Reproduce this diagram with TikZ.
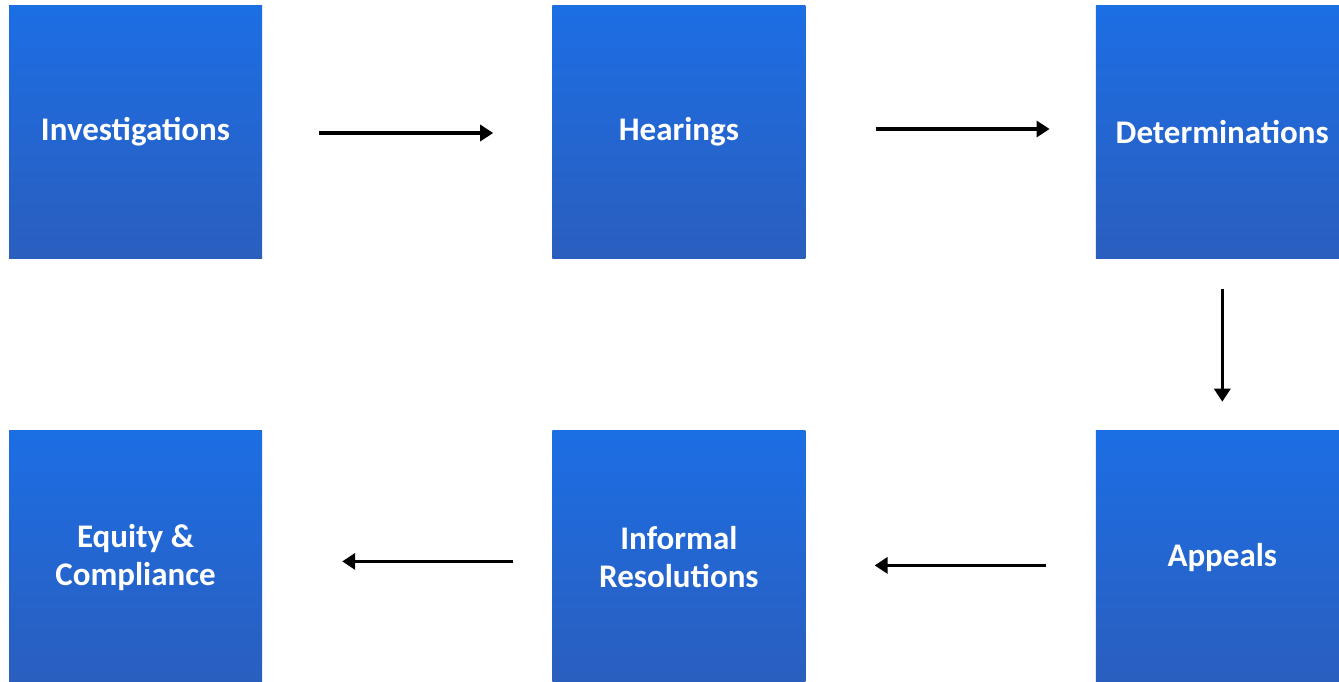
\documentclass[tikz,border=0pt]{standalone}
\usepackage{fontspec}
\setmainfont{Carlito}
\usepackage{tikz}
\usetikzlibrary{positioning,arrows.meta}

\definecolor{boxtop}{RGB}{28,110,228}
\definecolor{boxmid}{RGB}{38,116,224}
\definecolor{boxbot}{RGB}{42,94,190}

\tikzset{
  stage/.style = {minimum width = 253pt, minimum height = 253pt, inner sep = 0pt,
    top color = boxtop, middle color = boxmid, bottom color = boxbot,
    text = white, align = center,
    font = \fontsize{33}{38}\selectfont\bfseries},
  flow/.style = {line width = 3.6pt, -{Triangle[length=13pt,width=16pt]}}
}

\begin{document}
\begin{tikzpicture}[node distance = 290pt]
\useasboundingbox (0pt,0pt) rectangle (1339pt,-681pt);
\clip (0pt,0pt) rectangle (1339pt,-681pt);
\node [stage] (inv) at (135.5pt,-132pt) {Investigations};
\node [stage, right = of inv] (hear) {Hearings};
\node [stage, right = of hear] (det) {Determinations};
\node [stage, below = 172pt of det] (app) {Appeals};
\node [stage, left = of app] (inf) {Informal\\Resolutions};
\node [stage, left = of inf] (eq) {Equity \&\\Compliance};
\draw [flow, shorten <= 57pt, shorten >= 59pt] ([yshift=-1pt]inv.east) -- ([yshift=-1pt]hear.west);
\draw [flow, shorten <= 70pt, shorten >= 46pt] ([yshift=3pt]hear.east) -- ([yshift=3pt]det.west);
\draw [flow, shorten <= 30pt, shorten >= 29pt] (det.south) -- (app.north);
\draw [flow, shorten <= 50pt, shorten >= 69pt] ([yshift=-8pt]app.west) -- ([yshift=-8pt]inf.east);
\draw [flow, shorten <= 39pt, shorten >= 80pt] ([yshift=-4pt]inf.west) -- ([yshift=-4pt]eq.east);
\end{tikzpicture}
\end{document}
